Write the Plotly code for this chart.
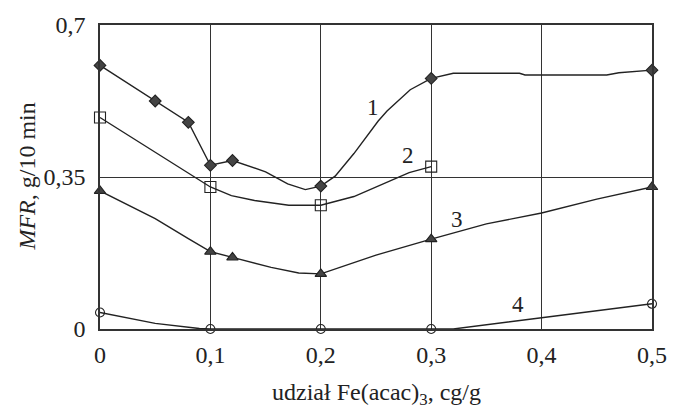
import plotly.graph_objects as go

# Curve 1 (diamonds)
x1_pts = [0, 0.05, 0.08, 0.1, 0.12, 0.2, 0.3, 0.5]
y1_pts = [0.607, 0.525, 0.476, 0.377, 0.388, 0.329, 0.577, 0.596]
x1_line = [0, 0.05, 0.08, 0.1, 0.12, 0.15, 0.17, 0.186, 0.2, 0.213, 0.23, 0.252, 0.26, 0.281, 0.3, 0.32, 0.38, 0.385, 0.459, 0.47, 0.5]
y1_line = [0.607, 0.525, 0.476, 0.377, 0.388, 0.362, 0.334, 0.321, 0.329, 0.352, 0.404, 0.479, 0.502, 0.551, 0.577, 0.589, 0.589, 0.585, 0.585, 0.59, 0.596]

# Curve 2 (squares)
x2_pts = [0, 0.1, 0.2, 0.3]
y2_pts = [0.487, 0.327, 0.285, 0.374]
x2_line = [0, 0.05, 0.1, 0.119, 0.14, 0.171, 0.2, 0.23, 0.252, 0.28, 0.3]
y2_line = [0.487, 0.407, 0.327, 0.307, 0.296, 0.285, 0.285, 0.305, 0.330, 0.36, 0.374]

# Curve 3 (triangles)
x3_pts = [0, 0.1, 0.12, 0.2, 0.3, 0.5]
y3_pts = [0.318, 0.178, 0.165, 0.127, 0.207, 0.327]
x3_line = [0, 0.05, 0.08, 0.1, 0.12, 0.155, 0.18, 0.2, 0.25, 0.3, 0.35, 0.4, 0.45, 0.5]
y3_line = [0.318, 0.254, 0.208, 0.178, 0.165, 0.142, 0.129, 0.127, 0.17, 0.207, 0.242, 0.267, 0.299, 0.327]

# Curve 4 (circles)
x4_pts = [0, 0.1, 0.2, 0.3, 0.5]
y4_pts = [0.038, 0, 0, 0, 0.058]
x4_line = [0, 0.05, 0.09, 0.1, 0.2, 0.3, 0.32, 0.4, 0.5]
y4_line = [0.038, 0.013, 0.001, 0, 0, 0, 0, 0.026, 0.058]

curve_labels = ["1", "2", "3", "4"]
label_x = [0.247, 0.279, 0.323, 0.379]
label_y = [0.51, 0.4, 0.253, 0.057]

x_ticks = [0, 0.1, 0.2, 0.3, 0.4, 0.5]
x_ticktext = ["0", "0,1", "0,2", "0,3", "0,4", "0,5"]
y_ticks = [0, 0.35, 0.7]
y_ticktext = ["0", "0,35", "0,7"]

LINE = "#222222"
FILL = "#444444"
FONT = "Liberation Serif"

fig = go.Figure()

series = [
    (x1_line, y1_line, x1_pts, y1_pts, "diamond", 9, FILL),
    (x2_line, y2_line, x2_pts, y2_pts, "square-open", 11, LINE),
    (x3_line, y3_line, x3_pts, y3_pts, "triangle-up", 10, FILL),
    (x4_line, y4_line, x4_pts, y4_pts, "circle-open", 9, LINE),
]
for xl, yl, xp, yp, sym, sz, col in series:
    fig.add_trace(go.Scatter(x=xl, y=yl, mode="lines",
                             line=dict(color=LINE, width=1.4),
                             cliponaxis=False, showlegend=False, hoverinfo="skip"))
    fig.add_trace(go.Scatter(x=xp, y=yp, mode="markers",
                             marker=dict(symbol=sym, size=sz, color=col,
                                         line=dict(color=LINE, width=1.1)),
                             cliponaxis=False, showlegend=False))

for t, lx, ly in zip(curve_labels, label_x, label_y):
    fig.add_annotation(x=lx, y=ly, text=t, showarrow=False,
                       font=dict(family=FONT, size=23, color="#222"))

fig.add_annotation(xref="paper", yref="paper", x=-0.133, y=0.5,
                   xanchor="center", yanchor="middle",
                   text="<i>MFR</i>, g/10 min", textangle=-90, showarrow=False,
                   font=dict(family=FONT, size=24, color="#222"))
fig.add_annotation(xref="paper", yref="paper", x=0.5, y=-0.215,
                   text="udział Fe(acac)<sub>3</sub>, cg/g", showarrow=False,
                   xanchor="center", yanchor="middle",
                   font=dict(family=FONT, size=24, color="#222"))

fig.update_layout(
    width=679, height=405,
    margin=dict(l=100, r=24, t=19, b=76),
    paper_bgcolor="white", plot_bgcolor="white",
    font=dict(family=FONT, size=24, color="#222"),
    xaxis=dict(range=[0, 0.5], tickvals=x_ticks, ticktext=x_ticktext,
               showgrid=True, gridcolor="#333", gridwidth=1.2,
               showline=True, mirror=True, linecolor="#333", linewidth=1.5,
               zeroline=False, ticks="", ticklabelstandoff=3),
    yaxis=dict(range=[0, 0.7], tickvals=y_ticks, ticktext=y_ticktext,
               showgrid=True, gridcolor="#333", gridwidth=1.2,
               showline=True, mirror=True, linecolor="#333", linewidth=1.5,
               zeroline=False, ticks="", ticklabelstandoff=8),
)

fig.write_html("out.html", config={"displayModeBar": False},
               post_script="document.body.style.margin='0';document.body.style.overflow='hidden';")
